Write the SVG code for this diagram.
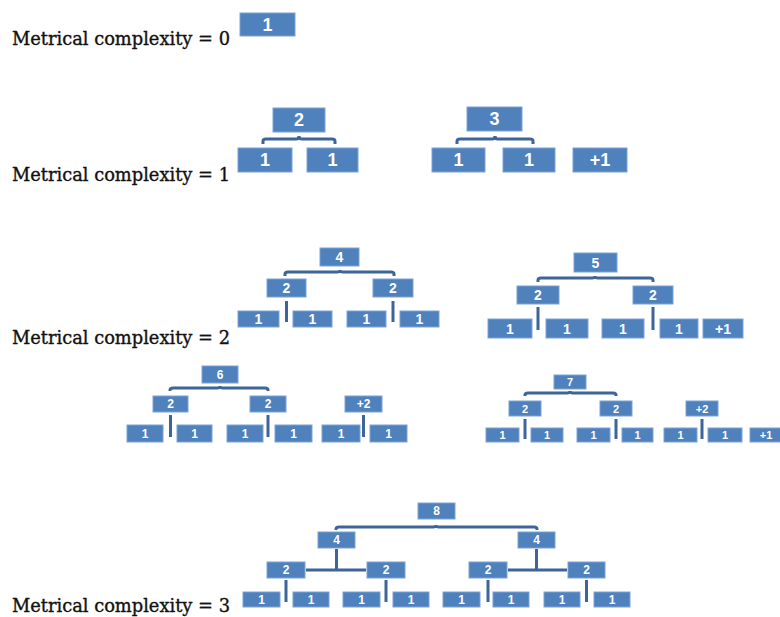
<svg xmlns="http://www.w3.org/2000/svg" width="780" height="617" viewBox="0 0 780 617">
<style>
.bg{fill:#ffffff}
.b rect{fill:#4f81bd;stroke:#7da2d3;stroke-width:1}
.b text{fill:#ffffff;font-family:"Liberation Sans",Arial,sans-serif;font-weight:bold;text-anchor:middle;dominant-baseline:central}
.L{font-family:"DejaVu Serif","Liberation Serif",serif;font-size:18px;fill:#111111;stroke:#111111;stroke-width:0.35}
.c path,.c line{fill:none;stroke:#3d6599;stroke-width:3;stroke-linecap:butt}
.f18 text{font-size:18px}.f14 text{font-size:14px}.f12 text{font-size:12px}.f11 text{font-size:11px}
</style>
<rect class="bg" x="0" y="0" width="780" height="617"/>

<g id="labels">
<text class="L" x="12" y="45" textLength="218" lengthAdjust="spacingAndGlyphs">Metrical complexity = 0</text>
<text class="L" x="12" y="181" textLength="218" lengthAdjust="spacingAndGlyphs">Metrical complexity = 1</text>
<text class="L" x="12" y="344" textLength="218" lengthAdjust="spacingAndGlyphs">Metrical complexity = 2</text>
<text class="L" x="12" y="612" textLength="218" lengthAdjust="spacingAndGlyphs">Metrical complexity = 3</text>
</g>

<g id="connectors" class="c">
<path d="M263,144 L263,141 Q263,139 266,139 L296,139 Q299,139 299,136 Q299,139 302,139 L332,139 Q335,139 335,141 L335,144"/>
<path d="M457,144 L457,141 Q457,139 460,139 L492,139 Q495,139 495,136 Q495,139 498,139 L530,139 Q533,139 533,141 L533,144"/>
<path d="M285,276 L285,274 Q285,272 288,272 L337,272 Q340,272 340,270 Q340,272 343,272 L391,272 Q394,272 394,274 L394,276"/>
<line x1="286.5" y1="301" x2="286.5" y2="322"/>
<line x1="393" y1="301" x2="393" y2="322"/>
<path d="M538,282 L538,280 Q538,278 541,278 L592,278 Q595,278 595,276 Q595,278 598,278 L650,278 Q653,278 653,280 L653,282"/>
<line x1="538" y1="307" x2="538" y2="330"/>
<line x1="653" y1="307" x2="653" y2="330"/>
<path d="M170,391 L170,390 Q170,388 173,388 L217,388 Q220,388 220,386 Q220,388 223,388 L265,388 Q268,388 268,390 L268,391"/>
<line x1="170.5" y1="415" x2="170.5" y2="437"/>
<line x1="268" y1="415" x2="268" y2="437"/>
<line x1="363.5" y1="415" x2="363.5" y2="437"/>
<path d="M525,396 L525,395 Q525,393 528,393 L567,393 Q570,393 570,391 Q570,393 573,393 L613,393 Q616,393 616,395 L616,396"/>
<line x1="525" y1="419" x2="525" y2="439"/>
<line x1="616" y1="419" x2="616" y2="439"/>
<line x1="702" y1="419" x2="702" y2="439"/>
<path d="M336,530 L336,529 Q336,527 339,527 L433,527 Q436,527 436,525 Q436,527 439,527 L534,527 Q537,527 537,529 L537,530"/>
<line x1="336.5" y1="549" x2="336.5" y2="570"/>
<line x1="306" y1="570" x2="366" y2="570"/>
<line x1="536.5" y1="549" x2="536.5" y2="570"/>
<line x1="508" y1="570" x2="567" y2="570"/>
<line x1="286" y1="580" x2="286" y2="602"/>
<line x1="386" y1="580" x2="386" y2="602"/>
<line x1="488" y1="580" x2="488" y2="602"/>
<line x1="586.5" y1="580" x2="586.5" y2="602"/>
</g>

<g id="r0n1" class="b f18"><rect x="240" y="13" width="55" height="23"/><text x="267.5" y="24.5">1</text></g>

<g id="r1a2" class="b f18"><rect x="273" y="108" width="52" height="24"/><text x="299" y="120">2</text></g>
<g id="r1a1a" class="b f18"><rect x="238" y="148" width="54" height="24"/><text x="265" y="160">1</text></g>
<g id="r1a1b" class="b f18"><rect x="307" y="148" width="51" height="24"/><text x="332.5" y="160">1</text></g>
<g id="r1b3" class="b f18"><rect x="467" y="107" width="55" height="24"/><text x="494.5" y="119">3</text></g>
<g id="r1b1a" class="b f18"><rect x="432" y="148" width="53" height="24"/><text x="458.5" y="160">1</text></g>
<g id="r1b1b" class="b f18"><rect x="503" y="148" width="52" height="24"/><text x="529" y="160">1</text></g>
<g id="r1bp1" class="b f18"><rect x="573" y="148" width="54" height="24"/><text x="600" y="160">+1</text></g>

<g id="r2a4" class="b f14"><rect x="320" y="248" width="39" height="18"/><text x="339.5" y="257">4</text></g>
<g id="r2a2a" class="b f14"><rect x="267" y="279" width="39" height="18"/><text x="286.5" y="288">2</text></g>
<g id="r2a2b" class="b f14"><rect x="373" y="279" width="40" height="18"/><text x="393" y="288">2</text></g>
<g id="r2a1a" class="b f14"><rect x="238" y="311" width="41" height="16"/><text x="258.5" y="319">1</text></g>
<g id="r2a1b" class="b f14"><rect x="293" y="311" width="39" height="16"/><text x="312.5" y="319">1</text></g>
<g id="r2a1c" class="b f14"><rect x="347" y="311" width="39" height="16"/><text x="366.5" y="319">1</text></g>
<g id="r2a1d" class="b f14"><rect x="400" y="311" width="39" height="16"/><text x="419.5" y="319">1</text></g>

<g id="r2b5" class="b f14"><rect x="574" y="253" width="43" height="19"/><text x="595.5" y="262.5">5</text></g>
<g id="r2b2a" class="b f14"><rect x="517" y="286" width="42" height="18"/><text x="538" y="295">2</text></g>
<g id="r2b2b" class="b f14"><rect x="633" y="286" width="40" height="18"/><text x="653" y="295">2</text></g>
<g id="r2b1a" class="b f14"><rect x="488" y="319" width="44" height="19"/><text x="510" y="328.5">1</text></g>
<g id="r2b1b" class="b f14"><rect x="546" y="319" width="42" height="19"/><text x="567" y="328.5">1</text></g>
<g id="r2b1c" class="b f14"><rect x="602" y="319" width="42" height="19"/><text x="623" y="328.5">1</text></g>
<g id="r2b1d" class="b f14"><rect x="660" y="319" width="38" height="19"/><text x="679" y="328.5">1</text></g>
<g id="r2bp1" class="b f14"><rect x="703" y="319" width="40" height="19"/><text x="723" y="328.5">+1</text></g>

<g id="r3a6" class="b f12"><rect x="202" y="366" width="36" height="17"/><text x="220" y="374.5">6</text></g>
<g id="r3a2a" class="b f12"><rect x="153" y="396" width="35" height="16"/><text x="170.5" y="404">2</text></g>
<g id="r3a2b" class="b f12"><rect x="250" y="396" width="36" height="16"/><text x="268" y="404">2</text></g>
<g id="r3ap2" class="b f12"><rect x="345" y="396" width="37" height="16"/><text x="363.5" y="404">+2</text></g>
<g id="r3a1a" class="b f12"><rect x="127" y="425" width="36" height="17"/><text x="145" y="433.5">1</text></g>
<g id="r3a1b" class="b f12"><rect x="177" y="425" width="35" height="17"/><text x="194.5" y="433.5">1</text></g>
<g id="r3a1c" class="b f12"><rect x="227" y="425" width="36" height="17"/><text x="245" y="433.5">1</text></g>
<g id="r3a1d" class="b f12"><rect x="275" y="425" width="37" height="17"/><text x="293.5" y="433.5">1</text></g>
<g id="r3a1e" class="b f12"><rect x="322" y="425" width="38" height="17"/><text x="341" y="433.5">1</text></g>
<g id="r3a1f" class="b f12"><rect x="370" y="425" width="37" height="17"/><text x="388.5" y="433.5">1</text></g>

<g id="r3b7" class="b f11"><rect x="554" y="375" width="32" height="14"/><text x="570" y="382">7</text></g>
<g id="r3b2a" class="b f11"><rect x="509" y="401" width="32" height="15"/><text x="525" y="408.5">2</text></g>
<g id="r3b2b" class="b f11"><rect x="600" y="401" width="32" height="15"/><text x="616" y="408.5">2</text></g>
<g id="r3bp2" class="b f11"><rect x="686" y="401" width="32" height="15"/><text x="702" y="408.5">+2</text></g>
<g id="r3b1a" class="b f11"><rect x="486" y="428" width="33" height="14"/><text x="502.5" y="435">1</text></g>
<g id="r3b1b" class="b f11"><rect x="531" y="428" width="32" height="14"/><text x="547" y="435">1</text></g>
<g id="r3b1c" class="b f11"><rect x="577" y="428" width="33" height="14"/><text x="593.5" y="435">1</text></g>
<g id="r3b1d" class="b f11"><rect x="622" y="428" width="31" height="14"/><text x="637.5" y="435">1</text></g>
<g id="r3b1e" class="b f11"><rect x="664" y="428" width="33" height="14"/><text x="680.5" y="435">1</text></g>
<g id="r3b1f" class="b f11"><rect x="708" y="428" width="34" height="14"/><text x="725" y="435">1</text></g>
<g id="r3bp1" class="b f11"><rect x="750" y="428" width="34" height="14"/><text x="766" y="435">+1</text></g>

<g id="r4n8" class="b f12"><rect x="418" y="503" width="37" height="16"/><text x="436.5" y="511">8</text></g>
<g id="r4n4a" class="b f12"><rect x="318" y="532" width="37" height="16"/><text x="336.5" y="540">4</text></g>
<g id="r4n4b" class="b f12"><rect x="518" y="532" width="37" height="16"/><text x="536.5" y="540">4</text></g>
<g id="r4n2a" class="b f12"><rect x="267" y="562" width="38" height="16"/><text x="286" y="570">2</text></g>
<g id="r4n2b" class="b f12"><rect x="367" y="562" width="38" height="16"/><text x="386" y="570">2</text></g>
<g id="r4n2c" class="b f12"><rect x="469" y="562" width="38" height="16"/><text x="488" y="570">2</text></g>
<g id="r4n2d" class="b f12"><rect x="568" y="562" width="37" height="16"/><text x="586.5" y="570">2</text></g>
<g id="r4n1a" class="b f12"><rect x="243" y="592" width="37" height="15"/><text x="261.5" y="599.5">1</text></g>
<g id="r4n1b" class="b f12"><rect x="293" y="592" width="36" height="15"/><text x="311" y="599.5">1</text></g>
<g id="r4n1c" class="b f12"><rect x="343" y="592" width="37" height="15"/><text x="361.5" y="599.5">1</text></g>
<g id="r4n1d" class="b f12"><rect x="393" y="592" width="36" height="15"/><text x="411" y="599.5">1</text></g>
<g id="r4n1e" class="b f12"><rect x="443" y="592" width="37" height="15"/><text x="461.5" y="599.5">1</text></g>
<g id="r4n1f" class="b f12"><rect x="493" y="592" width="36" height="15"/><text x="511" y="599.5">1</text></g>
<g id="r4n1g" class="b f12"><rect x="544" y="592" width="36" height="15"/><text x="562" y="599.5">1</text></g>
<g id="r4n1h" class="b f12"><rect x="594" y="592" width="36" height="15"/><text x="612" y="599.5">1</text></g>
</svg>
